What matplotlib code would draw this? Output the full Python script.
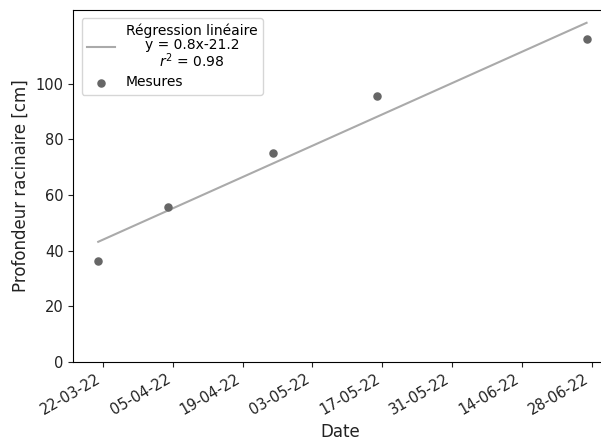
import datetime as dt
import numpy as np
import matplotlib
matplotlib.use("Agg")
import matplotlib.pyplot as plt
import matplotlib.dates as mdates

# mesures (jour de l'année 2022) et profondeur racinaire [cm]
jours = [80, 94, 115, 136, 178]
profondeur = [36.4, 55.8, 75.0, 95.7, 116.2]

# droite de régression
pente, ordonnee = np.polyfit(jours, profondeur, 1)
label_reg = "Régression linéaire\ny = 0.8x-21.2\n$r^2$ = 0.98"

debut = dt.date(2022, 1, 1)
dates = [debut + dt.timedelta(days=j - 1) for j in jours]
ticks = [dt.date(2022, 3, 22) + dt.timedelta(days=14 * i) for i in range(8)]

fig = plt.figure(figsize=(6.01, 4.48), dpi=100)
ax = fig.add_axes([73.3 / 601, (448 - 361.7) / 448, (606.5 - 73.3) / 601, (361.7 - 10) / 448])

x_reg = np.array([jours[0], jours[-1]])
dates_reg = [debut + dt.timedelta(days=int(j) - 1) for j in x_reg]
ax.plot(dates_reg, pente * x_reg + ordonnee, color="#aaaaaa", lw=1.5, label=label_reg)
ax.scatter(dates, profondeur, color="#666666", s=26, label="Mesures", zorder=3)

ax.set_xlim(debut + dt.timedelta(days=74.1), debut + dt.timedelta(days=181.9))
ax.set_ylim(0, 126.6)
ax.set_yticks([0, 20, 40, 60, 80, 100])
ax.set_xticks(ticks)
ax.xaxis.set_major_formatter(mdates.DateFormatter("%d-%m-%y"))
for t in ax.get_xticklabels():
    t.set_rotation(30)
    t.set_ha("right")
ax.tick_params(labelsize=10.5, colors="#222222")

ax.set_xlabel("Date", fontsize=12, color="#222222")
ax.set_ylabel("Profondeur racinaire [cm]", fontsize=12, color="#222222")

leg = ax.legend(loc="upper left", fontsize=10, labelspacing=0.4,
                borderaxespad=0.6)
for t in leg.get_texts():
    t.set_multialignment("center")
    t.set_linespacing(0.95)

fig.savefig("out.png", dpi=100)
